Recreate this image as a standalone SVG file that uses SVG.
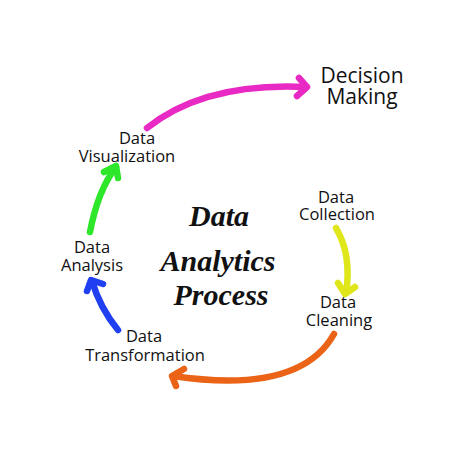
<svg xmlns="http://www.w3.org/2000/svg" width="450" height="450" viewBox="0 0 450 450">
<style>
.lbl{font-family:"Open Sans","Noto Sans",sans-serif;font-size:16.5px;fill:#111;text-anchor:middle}
.big{font-size:21px;font-weight:500}
.title{font-family:"Liberation Serif","DejaVu Serif",serif;font-style:italic;font-weight:bold;font-size:30px;fill:#111;text-anchor:middle}
.arr{fill:none;stroke-width:6.5;stroke-linecap:round;stroke-linejoin:round}
</style>
<rect width="450" height="450" fill="#fff"/>
<g id="connectors">
<g stroke="#e829c4" class="arr"><path d="M147,128 Q205,82 306,87"/><path d="M299,78 L307,87 L297,96"/></g>
<g stroke="#2ee62a" class="arr"><path d="M90,232 Q98,190 116,167"/><path d="M104,172 L116,166 L118,178"/></g>
<g stroke="#1f3ff0" class="arr"><path d="M118,330 Q100,308 92,281"/><path d="M87,291 L91,280 L103,284"/></g>
<g stroke="#eb6317" class="arr"><path d="M334,334 Q300,395 173,376"/><path d="M184,369 L172,376 L176,386"/></g>
<g stroke="#dfe61a" class="arr"><path d="M336,228 Q352,255 346,293"/><path d="M338,283 L345,294 L355,287"/></g>
</g>
<g id="decision"><text class="lbl big" x="362" y="83">Decision</text><text class="lbl big" x="362" y="104">Making</text></g>
<g id="visualization"><text class="lbl" x="137" y="144">Data</text><text class="lbl" x="127" y="162">Visualization</text></g>
<g id="analysis"><text class="lbl" x="92" y="253">Data</text><text class="lbl" x="92" y="271">Analysis</text></g>
<g id="transformation"><text class="lbl" x="144" y="342">Data</text><text class="lbl" x="145" y="361">Transformation</text></g>
<g id="cleaning"><text class="lbl" x="338" y="308">Data</text><text class="lbl" x="339" y="326">Cleaning</text></g>
<g id="collection"><text class="lbl" x="336" y="203">Data</text><text class="lbl" x="337" y="220">Collection</text></g>
<g id="title"><text class="title" x="219" y="226">Data</text><text class="title" x="218" y="271">Analytics</text><text class="title" x="221" y="305">Process</text></g>
</svg>
